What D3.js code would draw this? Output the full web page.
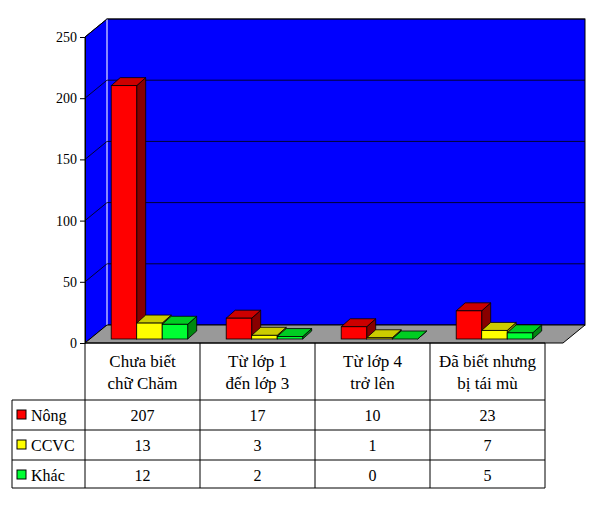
<!DOCTYPE html>
<html><head><meta charset="utf-8">
<script src="https://cdn.jsdelivr.net/npm/d3@7"></script>
<style>body{margin:0;background:#fff}</style>
</head><body>
<script>
var categories = [["Chưa biết", "chữ Chăm"], ["Từ lớp 1", "đến lớp 3"], ["Từ lớp 4", "trở lên"], ["Đã biết nhưng", "bị tái mù"]];
var seriesNames = ["Nông", "CCVC", "Khác"];
var nong = [207, 17, 10, 23];
var ccvc = [13, 3, 1, 7];
var khac = [12, 2, 0, 5];
var yTicks = [0, 50, 100, 150, 200, 250];

var series = [nong, ccvc, khac];
var fills = ["#ff0000", "#ffff00", "#00ff33"];
var tops = ["#cc0000", "#cccc00", "#00cc22"];
var sides = ["#880000", "#888800", "#008811"];
var serif = "'Liberation Serif', 'Times New Roman', 'DejaVu Serif', serif";

var svg = d3.select("body").append("svg").attr("width", 589).attr("height", 507)
  .attr("font-family", serif);
var dx = 22, dy = -18;
var x0 = 85, xEnd = 545, floorEnd = 563;
var y = d3.scaleLinear().domain([0, 250]).range([343, 37]);
var x = d3.scaleBand().domain(d3.range(4)).range([x0, xEnd]);

// walls
svg.append("polygon").attr("points", [[x0, y(250)], [x0 + dx, y(250) + dy], [x0 + dx, y(0) + dy], [x0, y(0)]].join(" "))
  .attr("fill", "#0000ff").attr("stroke", "#000");
svg.append("rect").attr("x", x0 + dx).attr("y", y(250) + dy).attr("width", floorEnd - x0).attr("height", y(0) - y(250))
  .attr("fill", "#0000ff").attr("stroke", "#000");
svg.append("line").attr("x1", x0 + dx).attr("x2", x0 + dx).attr("y1", y(250) + dy).attr("y2", y(0) + dy).attr("stroke", "#8888ff").attr("stroke-width", 2);
svg.append("polygon").attr("points", [[x0, y(0)], [x0 + dx, y(0) + dy], [floorEnd + dx, y(0) + dy], [floorEnd, y(0)]].join(" "))
  .attr("fill", "#999").attr("stroke", "#000");
yTicks.slice(1).forEach(function (t) {
  svg.append("polyline").attr("points", [[x0, y(t)], [x0 + dx, y(t) + dy], [floorEnd + dx, y(t) + dy]].join(" "))
    .attr("fill", "none").attr("stroke", "#000").attr("stroke-width", 0.8);
});

// axis
var ax = svg.append("g").attr("transform", "translate(" + x0 + ",0)")
  .call(d3.axisLeft(y).tickValues(yTicks).tickSize(5).tickSizeOuter(0));
ax.attr("font-family", serif).attr("font-size", 14);
ax.selectAll("text").attr("fill", "#000");
ax.select(".domain").attr("stroke", "#000");

// bars
var bw = 25.5, bdx = 9, bdy = -8, zoff = 4;
series.forEach(function (s, si) {
  s.forEach(function (v, ci) {
    var bx = x(ci) + 25 + si * bw + zoff * 0.3;
    var yb = y(0) - zoff, yt = yb - (y(0) - y(v));
    var g = svg.append("g").attr("stroke", "#000").attr("stroke-width", 0.8);
    g.append("polygon").attr("points", [[bx + bw, yt], [bx + bw + bdx, yt + bdy], [bx + bw + bdx, yb + bdy], [bx + bw, yb]].join(" ")).attr("fill", sides[si]);
    g.append("polygon").attr("points", [[bx, yt], [bx + bdx, yt + bdy], [bx + bw + bdx, yt + bdy], [bx + bw, yt]].join(" ")).attr("fill", tops[si]);
    g.append("rect").attr("x", bx).attr("y", yt).attr("width", bw).attr("height", yb - yt).attr("fill", fills[si]);
  });
});

// table
var rowY = [343, 400, 430, 460, 488];
var tbl = svg.append("g").attr("stroke", "#000").attr("stroke-width", 1);
tbl.append("line").attr("x1", x0).attr("x2", xEnd).attr("y1", 343).attr("y2", 343);
rowY.slice(1).forEach(function (ry) { tbl.append("line").attr("x1", 12).attr("x2", xEnd).attr("y1", ry).attr("y2", ry); });
tbl.append("line").attr("x1", 12).attr("x2", 12).attr("y1", 400).attr("y2", 488);
d3.range(5).forEach(function (i) {
  var xx = i < 4 ? x(i) : xEnd;
  tbl.append("line").attr("x1", xx).attr("x2", xx).attr("y1", 343).attr("y2", 488);
});
categories.forEach(function (c, i) {
  c.forEach(function (ln, k) {
    svg.append("text").attr("x", x(i) + x.bandwidth() / 2).attr("y", 367 + k * 22).attr("text-anchor", "middle").attr("font-size", 17).text(ln);
  });
});
seriesNames.forEach(function (n, si) {
  var ry = rowY[si + 1];
  svg.append("rect").attr("x", 17).attr("y", ry + 10).attr("width", 9).attr("height", 9).attr("fill", fills[si]).attr("stroke", "#000");
  svg.append("text").attr("x", 31).attr("y", ry + 21).attr("font-size", 16).text(n);
  series[si].forEach(function (v, ci) {
    svg.append("text").attr("x", x(ci) + x.bandwidth() / 2).attr("y", ry + 21).attr("text-anchor", "middle").attr("font-size", 16).text(v);
  });
});
</script>
</body></html>
